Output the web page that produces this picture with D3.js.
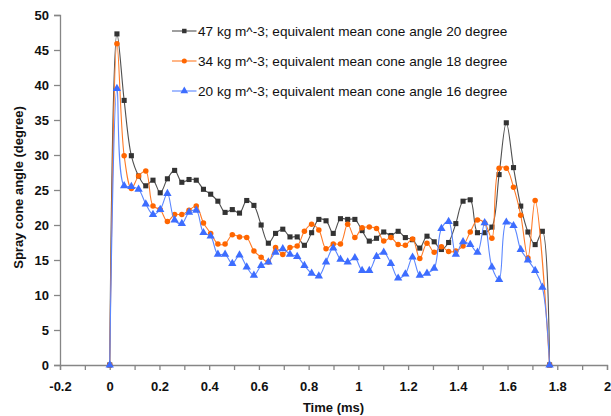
<!DOCTYPE html>
<html>
<head>
<meta charset="utf-8">
<script src="https://cdn.jsdelivr.net/npm/d3@7"></script>
<style>
  body { margin: 0; background: #fff; }
  svg { display: block; }
  text { font-family: "Liberation Sans", Arial, sans-serif; }
</style>
</head>
<body>
<svg id="chart" width="611" height="416"></svg>
<script>
// Sample times of the high-speed image sequence (ms)
const timeMs = [0, 0.029, 0.058, 0.087, 0.116, 0.145, 0.174, 0.203, 0.232, 0.261,
  0.29, 0.319, 0.348, 0.377, 0.406, 0.435, 0.464, 0.493, 0.522, 0.551,
  0.58, 0.609, 0.638, 0.667, 0.696, 0.725, 0.754, 0.783, 0.812, 0.841,
  0.87, 0.899, 0.928, 0.957, 0.986, 1.015, 1.044, 1.073, 1.102, 1.131,
  1.16, 1.189, 1.218, 1.247, 1.276, 1.305, 1.334, 1.363, 1.392, 1.421,
  1.45, 1.479, 1.508, 1.537, 1.566, 1.595, 1.624, 1.653, 1.682, 1.711,
  1.74, 1.769];

// Spray cone angle (degree) for each ambient density
const angle47 = [0, 47.3, 37.8, 29.9, 27.0, 25.6, 26.4, 24.6, 26.6, 27.8,
  26.1, 26.5, 26.4, 25.1, 24.4, 23.4, 21.8, 22.2, 21.7, 23.5,
  22.8, 20.0, 17.4, 18.8, 19.4, 18.3, 18.3, 17.1, 18.9, 20.8,
  20.6, 18.8, 20.9, 20.8, 20.8, 19.2, 17.7, 18.1, 19.0, 18.5,
  19.1, 18.2, 17.9, 16.7, 18.4, 17.6, 16.5, 17.5, 20.2, 23.4,
  23.6, 18.9, 18.9, 19.7, 27.2, 34.6, 28.2, 22.7, 19.0, 17.2,
  19.1, 0];

const angle34 = [0, 45.9, 29.9, 25.2, 27.0, 27.7, 22.7, 22.2, 20.5, 21.5,
  21.5, 22.1, 22.7, 20.3, 18.8, 17.3, 17.3, 18.6, 18.3, 18.2,
  16.3, 15.4, 14.7, 16.8, 15.8, 16.8, 17.0, 19.1, 20.1, 19.3,
  16.6, 17.3, 17.3, 20.1, 18.2, 19.6, 19.7, 19.5, 17.7, 18.2,
  17.2, 17.1, 18.0, 15.2, 17.4, 16.1, 16.9, 16.2, 16.3, 17.0,
  19.0, 20.7, 20.3, 18.1, 28.1, 28.1, 25.4, 21.4, 15.3, 23.5,
  null, 0];

const angle20 = [0, 39.5, 25.6, 25.5, 25.1, 23.0, 21.5, 22.2, 24.5, 20.7,
  20.2, 21.8, 22.1, 18.9, 18.4, 15.8, 15.8, 14.5, 15.7, 14.0,
  12.8, 14.2, 14.7, 16.1, 16.6, 15.8, 15.5, 14.2, 13.1, 12.7,
  14.7, 16.7, 15.1, 14.7, 15.3, 13.5, 13.5, 15.5, 16.1, 14.5,
  12.4, 13.0, 15.4, 12.8, 13.1, 13.8, 19.5, 20.5, 15.8, 17.6,
  17.2, 16.1, 20.3, 14.0, 12.2, 20.4, 19.9, 16.5, 15.0, 13.5,
  11.1, 0];

const seriesLabels = [
  "47 kg m^-3; equivalent mean cone angle 20 degree",
  "34 kg m^-3; equivalent mean cone angle 18 degree",
  "20 kg m^-3; equivalent mean cone angle 16 degree"
];
const xTicks = [-0.2, -0.1, 0, 0.1, 0.2, 0.3, 0.4, 0.5, 0.6, 0.7, 0.8, 0.9,
  1, 1.1, 1.2, 1.3, 1.4, 1.5, 1.6, 1.7, 1.8, 1.9, 2];
const yTicks = [0, 5, 10, 15, 20, 25, 30, 35, 40, 45, 50];

const series = [
  { label: seriesLabels[0], values: angle47, line: "#505050", fill: "#333333", marker: "square" },
  { label: seriesLabels[1], values: angle34, line: "#ff7a26", fill: "#ff6600", marker: "circle" },
  { label: seriesLabels[2], values: angle20, line: "#5a86ff", fill: "#3d6dff", marker: "triangle" }
];

const svg = d3.select("#chart");
const plotBox = { left: 60, right: 607, top: 15, bottom: 365 };

const x = d3.scaleLinear().domain([-0.2, 2]).range([plotBox.left, plotBox.right]);
const y = d3.scaleLinear().domain([0, 50]).range([plotBox.bottom, plotBox.top]);

const axisColor = "#868686";

// Y axis
const gy = svg.append("g")
  .attr("transform", `translate(${plotBox.left},0)`)
  .call(d3.axisLeft(y).tickValues(yTicks).tickSize(6).tickPadding(5).tickFormat(d3.format("d")));
// X axis
const gx = svg.append("g")
  .attr("transform", `translate(0,${plotBox.bottom})`)
  .call(d3.axisBottom(x).tickValues(xTicks).tickSize(5).tickPadding(12)
    .tickFormat(d => (Math.round(d * 10) % 2 === 0) ? String(+d.toFixed(1)) : ""));

[gx, gy].forEach(g => {
  g.select(".domain").attr("stroke", axisColor).attr("stroke-width", 1.3);
  g.selectAll(".tick line").attr("stroke", axisColor).attr("stroke-width", 1.3);
  g.selectAll(".tick text")
    .attr("fill", "#111")
    .style("font-family", '"Liberation Sans", Arial, sans-serif')
    .style("font-size", "13px")
    .style("font-weight", "bold");
});

// Axis titles
svg.append("text")
  .attr("x", (plotBox.left + plotBox.right) / 2).attr("y", 412)
  .attr("text-anchor", "middle")
  .style("font-size", "13px").style("font-weight", "bold")
  .attr("fill", "#111")
  .text("Time (ms)");

svg.append("text")
  .attr("transform", "translate(23,187.5) rotate(-90)")
  .attr("text-anchor", "middle")
  .style("font-size", "13px").style("font-weight", "bold")
  .attr("fill", "#111")
  .text("Spray cone angle (degree)");

// Marker symbols
const symbolType = { square: d3.symbolSquare, circle: d3.symbolCircle, triangle: d3.symbolTriangle };
const markerSize = { square: 26, circle: 24, triangle: 30 };

const line = d3.line()
  .x(d => x(d.t))
  .y(d => y(d.v))
  .curve(d3.curveCatmullRom.alpha(0.5));

const plot = svg.append("g");
series.forEach(s => {
  const pts = timeMs.map((t, i) => ({ t, v: s.values[i] })).filter(d => d.v !== null);
  const g = plot.append("g");
  g.append("path")
    .datum(pts)
    .attr("d", line)
    .attr("fill", "none")
    .attr("stroke", s.line)
    .attr("stroke-width", 1.1);
  g.selectAll("path.mk")
    .data(pts)
    .join("path")
    .attr("class", "mk")
    .attr("d", d3.symbol().type(symbolType[s.marker]).size(markerSize[s.marker])())
    .attr("transform", d => `translate(${x(d.t)},${y(d.v)})`)
    .attr("fill", s.fill);
});

// Legend
const legend = svg.append("g");
const legendY = [31, 61, 91];
series.forEach((s, i) => {
  const g = legend.append("g").attr("transform", `translate(0,${legendY[i]})`);
  g.append("line")
    .attr("x1", 172).attr("x2", 196.5)
    .attr("stroke", s.line).attr("stroke-width", 1.1);
  g.append("path")
    .attr("d", d3.symbol().type(symbolType[s.marker]).size(s.marker === "triangle" ? 26 : 20)())
    .attr("transform", "translate(184.3,0)")
    .attr("fill", s.fill);
  g.append("text")
    .attr("x", 198).attr("dy", "0.36em")
    .style("font-size", "13.6px")
    .attr("fill", "#111")
    .text(s.label);
});
</script>
</body>
</html>
